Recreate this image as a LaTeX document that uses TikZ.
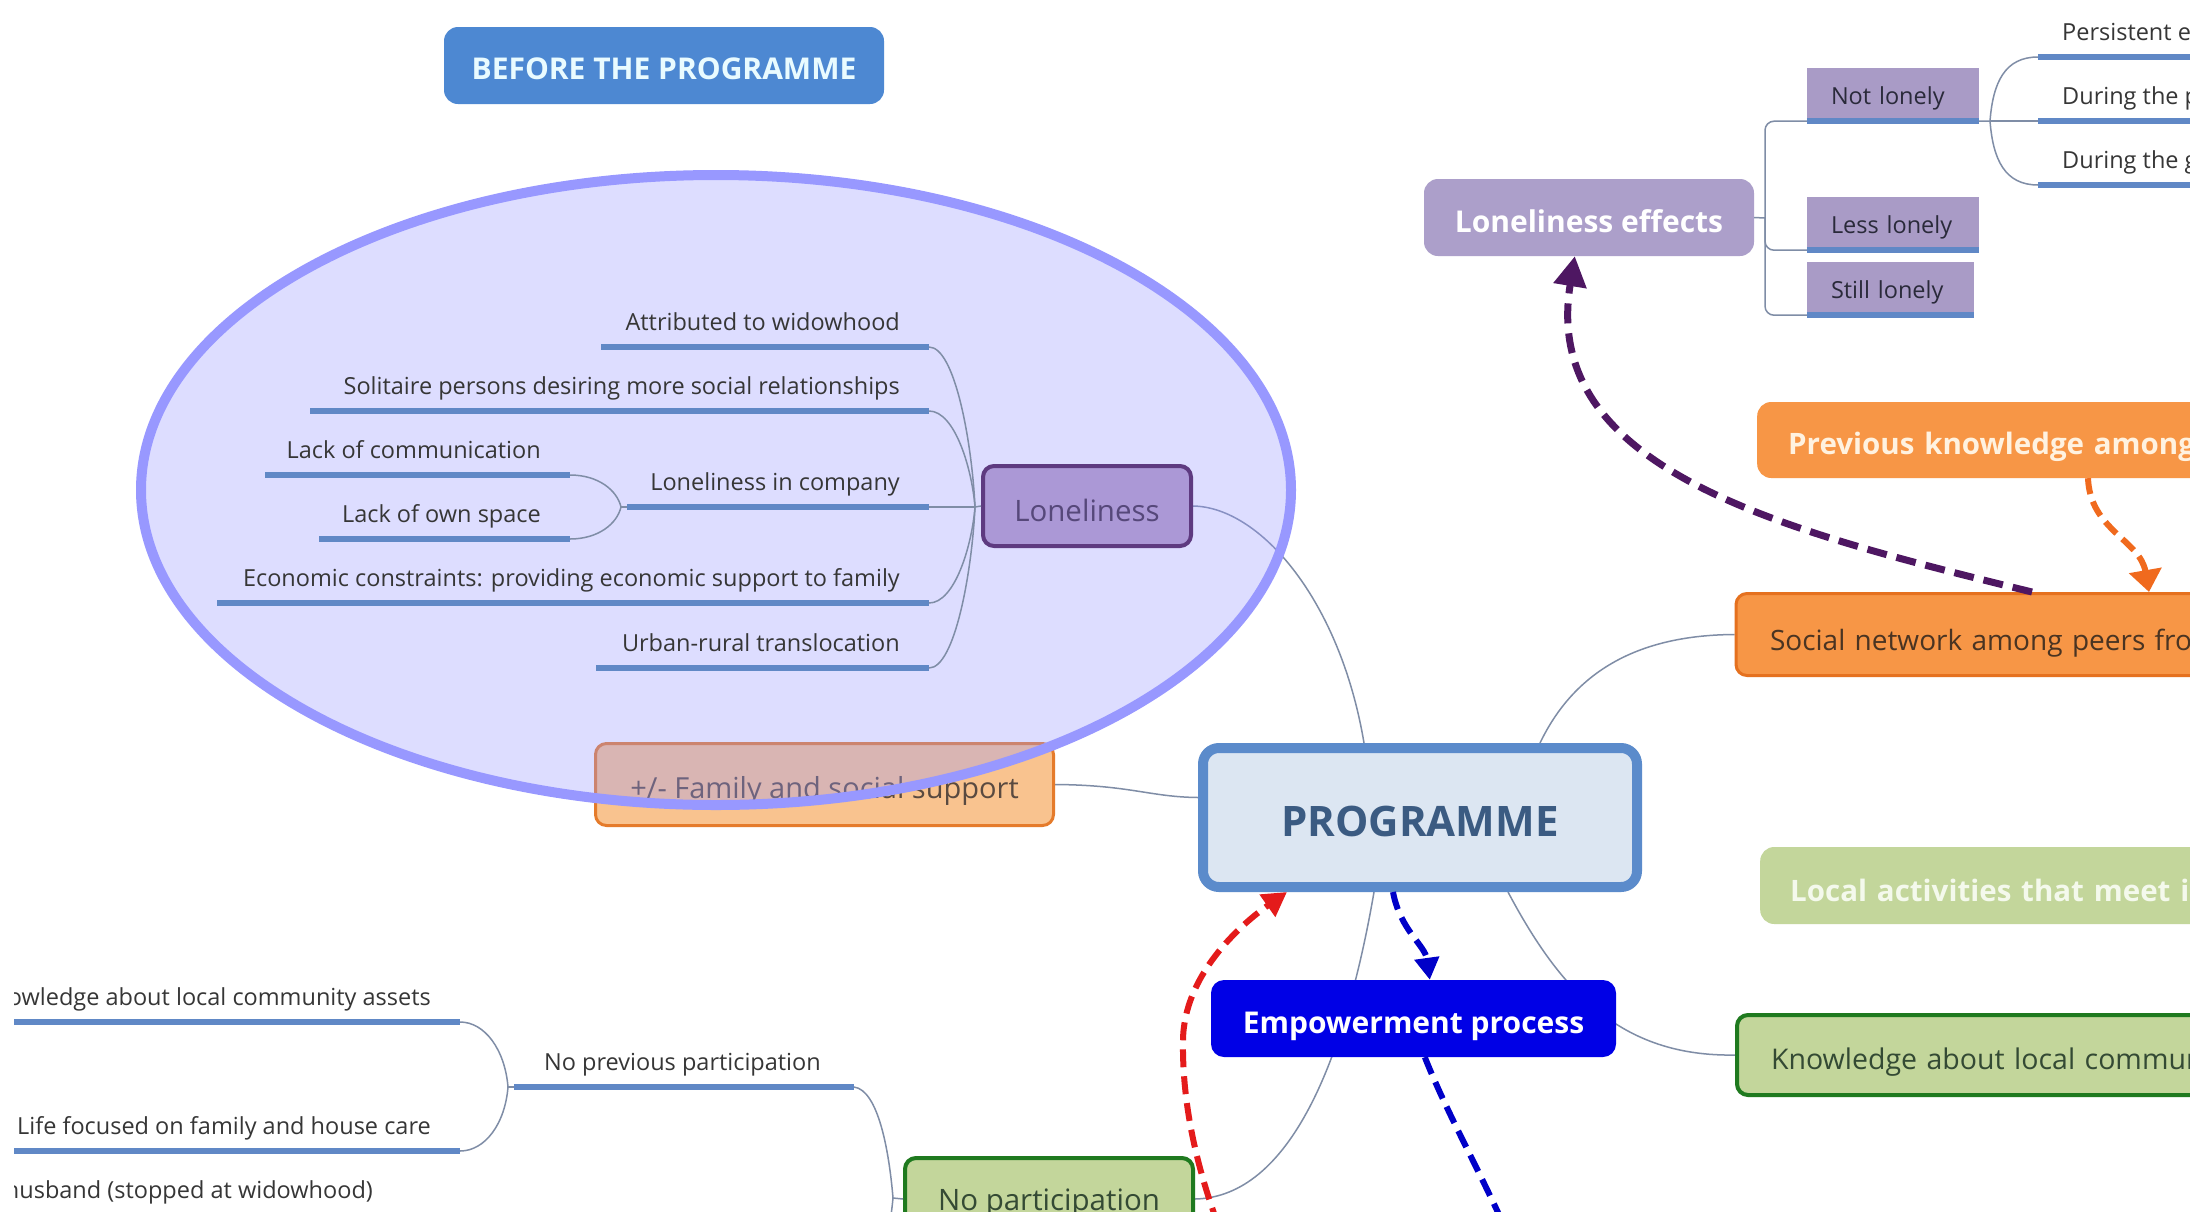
\documentclass[tikz,border=0pt]{standalone}
\usepackage{fontspec}
\setmainfont{Open Sans}
\usetikzlibrary{arrows.meta}
\pgfdeclarelayer{back}
\pgfdeclarelayer{bg}
\pgfdeclarelayer{fam}
\pgfdeclarelayer{ell}
\pgfdeclarelayer{front}
\pgfsetlayers{back,bg,fam,ell,main,front}

\definecolor{conncol}{HTML}{7F8DA6}
\definecolor{ulcol}{HTML}{6088C6}
\definecolor{treetxt}{HTML}{363636}
\definecolor{befblue}{HTML}{4D88D2}
\definecolor{titletxt}{HTML}{E9FBFF}
\definecolor{ellcol}{HTML}{9898FF}
\definecolor{lonfill}{HTML}{AB98D6}
\definecolor{lonline}{HTML}{5E3A80}
\definecolor{lontxt}{HTML}{56487A}
\definecolor{famfill}{HTML}{F9C38F}
\definecolor{famline}{HTML}{E57B2B}
\definecolor{famtxt}{HTML}{5A4A40}
\definecolor{progfill}{HTML}{DCE6F2}
\definecolor{progline}{HTML}{5B8BCB}
\definecolor{progtxt}{HTML}{3B5B82}
\definecolor{lefill}{HTML}{AC9FCA}
\definecolor{nlfill}{HTML}{A99BC6}
\definecolor{nltxt}{HTML}{2A2A3A}
\definecolor{orfill}{HTML}{F79646}
\definecolor{orline}{HTML}{E5711F}
\definecolor{ortxt}{HTML}{FFF2E0}
\definecolor{soctxt}{HTML}{4A3422}
\definecolor{grfill}{HTML}{C3D69B}
\definecolor{grline}{HTML}{1F7A1F}
\definecolor{grtxt}{HTML}{344A34}
\definecolor{grhead}{HTML}{F4F9EC}
\definecolor{empfill}{HTML}{0000E6}
\definecolor{arrpurple}{HTML}{4E1762}
\definecolor{arrorange}{HTML}{F06A1E}
\definecolor{arrred}{HTML}{E41B1B}
\definecolor{arrblue}{HTML}{0000C8}

\tikzset{
  conn/.style={draw=conncol, line width=1.5pt},
  uline/.style={draw=ulcol, line width=5.5pt},
  ttext/.style={text=treetxt, font=\fontsize{23.5}{27}\selectfont, inner sep=0pt},
  titlebox/.style={fill=befblue, text=titletxt, rounded corners=14pt, inner sep=0pt,
    text height=28.5pt, text depth=1pt, font=\fontsize{30}{34}\selectfont\bfseries},
  lonbox/.style={fill=lonfill, draw=lonline, line width=4pt, rounded corners=11pt,
    text=lontxt, inner sep=0pt, text height=30pt, text depth=0pt,
    font=\fontsize{29.5}{33}\selectfont},
  fambox/.style={fill=famfill, draw=famline, line width=3pt, rounded corners=11pt,
    text=famtxt, inner sep=0pt, text height=28pt, text depth=1pt,
    font=\fontsize{29}{33}\selectfont},
  progbox/.style={fill=progfill, draw=progline, line width=10pt, rounded corners=16pt,
    text=progtxt, inner sep=0pt, text height=38pt, text depth=0pt,
    font=\fontsize{42}{48}\selectfont\bfseries},
  lebox/.style={fill=lefill, text=white, rounded corners=14pt, inner sep=0pt,
    text height=29pt, text depth=0pt, font=\fontsize{30}{34}\selectfont\bfseries},
  nlbox/.style={fill=nlfill, text=nltxt, inner xsep=24pt, inner ysep=0pt, text width=124pt,
    align=left, minimum height=53pt, text height=19pt, text depth=0pt,
    font=\fontsize{23.5}{27}\selectfont},
  prevbox/.style={anchor=west, fill=orfill, text=ortxt, rounded corners=14pt,
    minimum height=76pt, text width=900pt, align=left, inner xsep=31pt, inner ysep=0pt,
    text height=30.5pt, text depth=1pt, font=\fontsize{29.5}{34}\selectfont\bfseries},
  socbox/.style={anchor=west, fill=orfill, draw=orline, line width=3pt, text=soctxt,
    rounded corners=11pt, minimum height=82pt, text width=900pt, align=left,
    inner xsep=34pt, inner ysep=0pt, text height=31pt, text depth=0pt,
    font=\fontsize{28}{32}\selectfont},
  locbox/.style={anchor=west, fill=grfill, text=grhead, rounded corners=14pt,
    minimum height=77pt, text width=900pt, align=left, inner xsep=30pt, inner ysep=0pt,
    text height=32pt, text depth=0pt, font=\fontsize{29.5}{34}\selectfont\bfseries},
  knowbox/.style={anchor=west, fill=grfill, draw=grline, line width=4pt, text=grtxt,
    rounded corners=11pt, minimum height=80pt, text width=900pt, align=left,
    inner xsep=34pt, inner ysep=0pt, text height=30pt, text depth=1pt,
    font=\fontsize{28.5}{32}\selectfont},
  npbox/.style={fill=grfill, draw=grline, line width=4pt, text=grtxt, rounded corners=11pt,
    inner sep=0pt, text height=25pt, text depth=1.5pt, font=\fontsize{29.5}{33}\selectfont},
  empbox/.style={fill=empfill, text=white, rounded corners=13pt, inner sep=0pt,
    text height=30.5pt, text depth=1pt, font=\fontsize{30}{34}\selectfont\bfseries},
  dasharrow/.style={line width=6pt, dash pattern=on 18pt off 9pt},
}

\begin{document}
\begin{tikzpicture}[x=1pt,y=-1pt]
\useasboundingbox (0,0) rectangle (2190,1211);
\begin{pgfonlayer}{back}
\fill[white] (0,0) rectangle (2190,1211);
\end{pgfonlayer}

% ---------- title
\node[titlebox, minimum width=440pt, minimum height=77pt] (before) at (664,65.5) {BEFORE THE PROGRAMME};

% ---------- central node
\node[progbox, minimum width=434pt, minimum height=139pt] (prog) at (1420,817.5) {PROGRAMME};

% ---------- family support (under the ellipse)
\begin{pgfonlayer}{fam}
\node[fambox, minimum width=458pt, minimum height=82pt] (fam) at (824.5,784.5) {+/- Family and social support};
\end{pgfonlayer}

% ---------- highlight ellipse
\begin{pgfonlayer}{ell}
\draw[draw=ellcol, line width=10pt, fill=ellcol, fill opacity=0.32] (716,490) ellipse [x radius=575pt, y radius=315pt];
\end{pgfonlayer}

% ---------- Loneliness tree
\node[lonbox, minimum width=208pt, minimum height=80pt] (lon) at (1087,506) {Loneliness};
\coordinate (lj) at (975,507);
\draw[conn] (lj) -- (lon.west);

\coordinate (u1a) at (601,347); \coordinate (u1b) at (929,347);
\coordinate (u2a) at (310,411); \coordinate (u2b) at (929,411);
\coordinate (u3a) at (627,507); \coordinate (u3b) at (929,507);
\coordinate (u4a) at (217,603); \coordinate (u4b) at (929,603);
\coordinate (u5a) at (596,668); \coordinate (u5b) at (929,668);
\coordinate (s1a) at (265,475); \coordinate (s1b) at (570,475);
\coordinate (s2a) at (319,539); \coordinate (s2b) at (570,539);
\coordinate (sj) at (621,507);

\draw[conn] (u1b) .. controls (955,347) and (972,443) .. (lj);
\draw[conn] (u2b) .. controls (955,411) and (972,469) .. (lj);
\draw[conn] (u3b) -- (lj);
\draw[conn] (u4b) .. controls (955,603) and (972,545) .. (lj);
\draw[conn] (u5b) .. controls (955,668) and (972,571) .. (lj);
\draw[conn] (s1b) .. controls (598,475) and (617,490) .. (sj);
\draw[conn] (s2b) .. controls (598,539) and (617,524) .. (sj);
\draw[conn] (sj) -- (u3a);

\draw[uline] (u1a) -- (u1b);
\draw[uline] (u2a) -- (u2b);
\draw[uline] (u3a) -- (u3b);
\draw[uline] (u4a) -- (u4b);
\draw[uline] (u5a) -- (u5b);
\draw[uline] (s1a) -- (s1b);
\draw[uline] (s2a) -- (s2b);

\node[ttext, anchor=base east] (t1) at (900,330) {Attributed to widowhood};
\node[ttext, anchor=base east] (t2) at (900,394) {Solitaire persons desiring more social relationships};
\node[ttext, anchor=base east] (t3) at (900,490) {Loneliness in company};
\node[ttext, anchor=base east] (t4) at (900,586) {Economic constraints: providing economic support to family};
\node[ttext, anchor=base east] (t5) at (900,651) {Urban-rural translocation};
\node[ttext, anchor=base east] (t6) at (541,458) {Lack of communication};
\node[ttext, anchor=base east] (t7) at (541,522) {Lack of own space};

% ---------- Loneliness effects
\node[lebox, minimum width=330pt, minimum height=77pt] (le) at (1589,217.5) {Loneliness effects};
\node[nlbox] (nl) at (1893,94.5) {Not lonely};
\node[nlbox] (ll) at (1893,223.5) {Less lonely};
\node[nlbox, text width=119pt] (sl) at (1890.5,288.5) {Still lonely};
\draw[uline] (nl.south west) -- (nl.south east);
\draw[uline] (ll.south west) -- (ll.south east);
\draw[uline] (sl.south west) -- (sl.south east);
\coordinate (lej) at (1765,218);
\draw[conn] (le.east) -- (lej);
\draw[conn, rounded corners=9pt] (lej) |- (nl.south west);
\draw[conn, rounded corners=9pt] (lej) |- (ll.south west);
\draw[conn, rounded corners=9pt] (lej) |- (sl.south west);

\coordinate (nlj) at (1990,121);
\coordinate (pe1) at (2038,57);  \coordinate (pe1e) at (2200,57);
\coordinate (pe2) at (2038,121); \coordinate (pe2e) at (2200,121);
\coordinate (pe3) at (2038,185); \coordinate (pe3e) at (2200,185);
\draw[conn] (nl.south east) -- (nlj);
\draw[conn] (nlj) .. controls (1993,82) and (2005,57) .. (pe1);
\draw[conn] (nlj) -- (pe2);
\draw[conn] (nlj) .. controls (1993,160) and (2005,185) .. (pe3);
\draw[uline] (pe1) -- (pe1e);
\draw[uline] (pe2) -- (pe2e);
\draw[uline] (pe3) -- (pe3e);
\node[ttext, anchor=base west] (pt1) at (2062,40) {Persistent effects};
\node[ttext, anchor=base west] (pt2) at (2062,104) {During the programme};
\node[ttext, anchor=base west] (pt3) at (2062,168) {During the group sessions};

% ---------- right column boxes
\node[prevbox] (prev) at (1757,440) {Previous knowledge among participants};
\node[socbox] (soc) at (1734.5,634.5) {Social network among peers from the programme};
\node[locbox] (loc) at (1760,885.5) {Local activities that meet interests};
\node[knowbox] (know) at (1735,1055) {Knowledge about local community assets};

% ---------- lower nodes
\node[empbox, minimum width=405pt, minimum height=77pt] (emp) at (1413.5,1018.5) {Empowerment process};
\node[npbox, minimum width=288pt, minimum height=82pt] (np) at (1049,1199) {No participation};

% ---------- bottom-left tree (cut at the left edge)
\begin{scope}
\clip (14,0) rectangle (2190,1211);
\coordinate (b1a) at (0,1022);   \coordinate (b1b) at (460,1022);
\coordinate (b2a) at (0,1151);   \coordinate (b2b) at (460,1151);
\coordinate (b3a) at (514,1087); \coordinate (b3b) at (854,1087);
\coordinate (bj) at (508,1087);
\coordinate (npj) at (893,1198);
\coordinate (prevpart) at (854,1300);
\draw[conn] (b1b) .. controls (485,1022) and (505,1050) .. (bj);
\draw[conn] (b2b) .. controls (485,1151) and (505,1124) .. (bj);
\draw[conn] (bj) -- (b3a);
\draw[conn] (b3b) .. controls (878,1090) and (889,1150) .. (npj);
\draw[conn] (prevpart) .. controls (878,1295) and (889,1240) .. (npj);
\draw[conn] (npj) -- (np.west);
\draw[uline] (b1a) -- (b1b);
\draw[uline] (b2a) -- (b2b);
\draw[uline] (b3a) -- (b3b);
\node[ttext, anchor=base east] (bt1) at (431,1005) {No knowledge about local community assets};
\node[ttext, anchor=base east] (bt2) at (431,1134) {Life focused on family and house care};
\node[ttext, anchor=base east] (bt3) at (821,1070) {No previous participation};
\node[ttext, anchor=base east] (bt4) at (373,1198) {husband (stopped at widowhood)};
\end{scope}

% ---------- thin connectors (behind)
\begin{pgfonlayer}{bg}
\draw[conn] (lon.east) .. controls (1260,507) and (1340,600) .. ([xshift=166pt]prog.north west);
\draw[conn] ([xshift=342pt]prog.north west) .. controls (1575,670) and (1640,635) .. (soc.west);
\draw[conn] (fam.east) .. controls (1130,785) and (1150,797) .. ([yshift=20pt]prog.west);
\draw[conn] ([xshift=176pt]prog.south west) .. controls (1345,1060) and (1290,1197) .. (np.east);
\draw[conn] ([xshift=310pt]prog.south west) .. controls (1560,990) and (1620,1057) .. (know.west);
\end{pgfonlayer}

% ---------- dashed arrows
\coordinate (redstart) at (1228,1250);
\coordinate (blueend) at (1515,1250);
\begin{pgfonlayer}{front}
\draw[dasharrow, draw=arrpurple, line width=7pt, dash pattern=on 20pt off 10pt,
  -{Triangle[length=30pt,width=32pt]}]
  ([xshift=297.5pt]soc.north west) .. controls (1780,530) and (1540,470) .. ([xshift=151pt]le.south west);
\draw[dasharrow, draw=arrorange, dash pattern=on 16pt off 8pt,
  -{Triangle[length=22pt,width=32pt]}]
  ([xshift=331pt]prev.south west) .. controls (2090,530) and (2140,540) .. ([xshift=414.5pt]soc.north west);
\draw[dasharrow, draw=arrblue, -{Triangle[length=22pt,width=24pt]}]
  ([xshift=195pt]prog.south west) .. controls (1400,930) and (1425,945) .. ([xshift=219pt]emp.north west);
\draw[dasharrow, draw=arrblue]
  ([xshift=214pt]emp.south west) .. controls (1450,1120) and (1480,1170) .. (blueend);
\draw[dasharrow, draw=arrred, -{Triangle[length=24pt,width=26pt]}]
  (redstart) .. controls (1195,1170) and (1182,1100) .. (1183,1040)
  .. controls (1184,975) and (1240,925) .. ([xshift=89pt]prog.south west);
\end{pgfonlayer}
\end{tikzpicture}
\end{document}
